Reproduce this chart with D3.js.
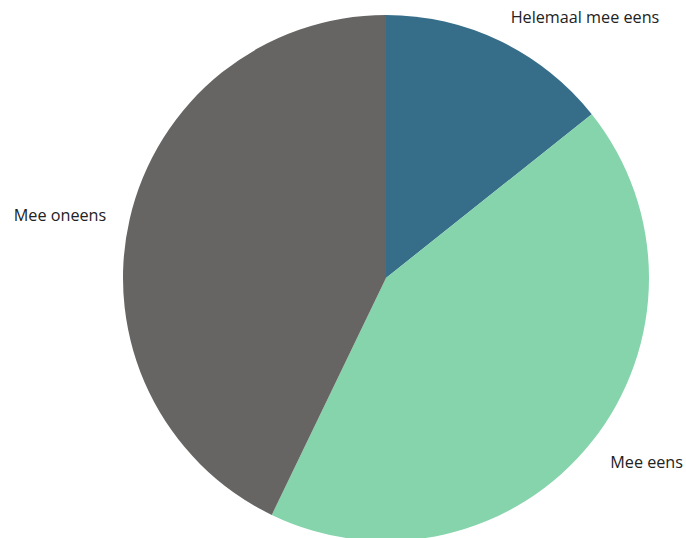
<!DOCTYPE html>
<html><head><meta charset="utf-8">
<script src="https://cdn.jsdelivr.net/npm/d3@7"></script>
<style>html,body{margin:0;padding:0;background:#fff;}</style>
</head><body>
<svg id="c" width="686" height="538"></svg>
<script>
const categories = ["Helemaal mee eens", "Mee eens", "Mee oneens"];
const values = [14.3, 42.85, 42.85];
const colors = ["#366E8A", "#85D4AB", "#676563"];

const svg = d3.select("#c");
const cx = 386, cy = 278, R = 263, labelRx = 287, labelRy = 292;
const g = svg.append("g").attr("transform", `translate(${cx},${cy})`);
const pie = d3.pie().sort(null).value(d => d.v);
const data = pie(categories.map((c, i) => ({c, v: values[i], col: colors[i]})));
const arc = d3.arc().innerRadius(0).outerRadius(R);
g.selectAll("path").data(data).join("path")
  .attr("d", arc).attr("fill", d => d.data.col);
g.selectAll("text").data(data).join("text")
  .attr("x", d => Math.sin((d.startAngle + d.endAngle) / 2) * labelRx)
  .attr("y", d => -Math.cos((d.startAngle + d.endAngle) / 2) * labelRy)
  .attr("dy", "0.5em")
  .attr("text-anchor", d => ((d.startAngle + d.endAngle) / 2) < Math.PI ? "start" : "end")
  .attr("font-family", "'Open Sans', sans-serif")
  .attr("font-size", 16.2)
  .attr("fill", "#222")
  .text(d => d.data.c);
</script>
</body></html>
